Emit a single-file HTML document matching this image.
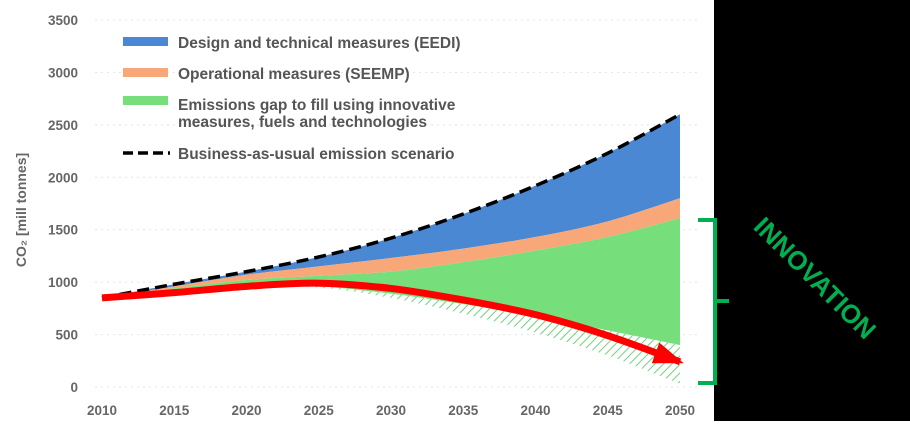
<!DOCTYPE html>
<html><head><meta charset="utf-8"><style>
body{margin:0;width:910px;height:421px;overflow:hidden;background:#fff;font-family:"Liberation Sans",sans-serif}
</style></head><body>
<svg width="910" height="421" id="svg">
<rect x="714" y="0" width="196" height="421" fill="#000"/>
<defs><pattern id="hatch" width="6" height="6" patternUnits="userSpaceOnUse" patternTransform="rotate(45)"><line x1="0" y1="0" x2="0" y2="6" stroke="#6fd17a" stroke-width="2"/></pattern></defs>
<g id="grid"></g><g id="areas"></g><g id="ticks"></g>
<text x="26" y="210" transform="rotate(-90 26 210)" text-anchor="middle" font-size="14" font-weight="bold" fill="#666">CO₂ [mill tonnes]</text>
<g font-size="15.5" font-weight="bold" fill="#555">
<rect x="123" y="37" width="45" height="9" fill="#4a88d4"/>
<text x="178" y="48">Design and technical measures (EEDI)</text>
<rect x="123" y="68" width="45" height="9" fill="#f8a878"/>
<text x="178" y="79">Operational measures (SEEMP)</text>
<rect x="123" y="96" width="45" height="9" fill="#76df7c"/>
<text x="178" y="110">Emissions gap to fill using innovative</text>
<text x="178" y="127">measures, fuels and technologies</text>
<line x1="123" y1="153" x2="170" y2="153" stroke="#000" stroke-width="3.5" stroke-dasharray="10,5"/>
<text x="178" y="159">Business-as-usual emission scenario</text>
</g>
<path d="M698 220 H715 V383 H698 M715 301 H729" fill="none" stroke="#00b050" stroke-width="4"/>
<text x="815" y="287" transform="rotate(45 815 278)" text-anchor="middle" font-size="26" font-weight="bold" fill="#00b050">INNOVATION</text>
</svg>
<script>
const years=[2010,2015,2020,2025,2030,2035,2040,2045,2050];
const bau=[850,980,1100,1240,1420,1650,1920,2230,2600];
const eediBottom=[850,960,1070,1150,1230,1320,1430,1580,1800];
const seempBottom=[850,940,1020,1060,1100,1190,1300,1430,1610];
const gapBottom=[850,920,970,960,890,790,680,540,400];
const hatchBottom=[850,900,950,950,850,700,520,300,30];
const redPath=[850,900,960,990,940,830,690,490,240];
const yTicks=[0,500,1000,1500,2000,2500,3000,3500];
const xTicks=[2010,2015,2020,2025,2030,2035,2040,2045,2050];
const NS="http://www.w3.org/2000/svg";
const X=v=>102+(v-2010)*(578/40), Y=v=>387-v*(367/3500);
function el(t,a,p){const e=document.createElementNS(NS,t);for(const k in a)e.setAttribute(k,a[k]);document.getElementById(p).appendChild(e);return e;}
function curve(pts){let d="";
 for(let i=0;i<pts.length-1;i++){const p0=pts[i-1]||pts[i],p1=pts[i],p2=pts[i+1],p3=pts[i+2]||p2;
 const c1=[p1[0]+(p2[0]-p0[0])/6,p1[1]+(p2[1]-p0[1])/6],c2=[p2[0]-(p3[0]-p1[0])/6,p2[1]-(p3[1]-p1[1])/6];
 d+=` C${c1} ${c2} ${p2}`;}return d;}
const toPts=vals=>years.map((y,i)=>[X(y),Y(vals[i])]);
function band(top,bot){const t=toPts(top),b=toPts(bot).reverse();
 return `M${t[0]}${curve(t)} L${b[0]}${curve(b)} Z`;}
yTicks.forEach(v=>{const g=el('line',{x1:95,x2:700,y1:Y(v),y2:Y(v),stroke:'#e4e4e4','stroke-dasharray':'2,4'},'grid');


const t=el('text',{x:78,y:Y(v)+5,'text-anchor':'end','font-size':13.5,'font-weight':'bold',fill:'#666'},'ticks');t.textContent=v;

});
xTicks.forEach(v=>{const t=el('text',{x:X(v),y:415,'text-anchor':'middle','font-size':13.5,'font-weight':'bold',fill:'#666'},'ticks');t.textContent=v;

});
const layers=[[gapBottom,hatchBottom,'url(#hatch)','hatch-area'],[bau,eediBottom,'#4a88d4','eedi-area'],[eediBottom,seempBottom,'#f8a878','seemp-area'],[seempBottom,gapBottom,'#76df7c','gap-area']];
layers.forEach(l=>{const p=el('path',{d:band(l[0],l[1]),fill:l[2]},'areas');

});
const bp=toPts(bau);const b=el('path',{d:`M${bp[0]}${curve(bp)}`,fill:'none',stroke:'#000','stroke-width':3.5,'stroke-dasharray':'12,6'},'areas');


const rp=toPts(redPath);const tip=rp[rp.length-1],prev=rp[rp.length-2];
let dx=tip[0]-prev[0],dy=tip[1]-prev[1];const L=Math.hypot(dx,dy);dx/=L;dy/=L;
const rl=el('path',{d:`M${rp[0]}${curve(rp)}`,fill:'none',stroke:'#f00','stroke-width':7,'stroke-linecap':'butt'},'areas');


const bx=tip[0]-dx*26,by=tip[1]-dy*26,nx=-dy,ny=dx;
const ah=el('polygon',{points:`${tip[0]+dx*4},${tip[1]+dy*4} ${bx+nx*11},${by+ny*11} ${bx-nx*11},${by-ny*11}`,fill:'#f00'},'areas');


</script>
</body></html>
